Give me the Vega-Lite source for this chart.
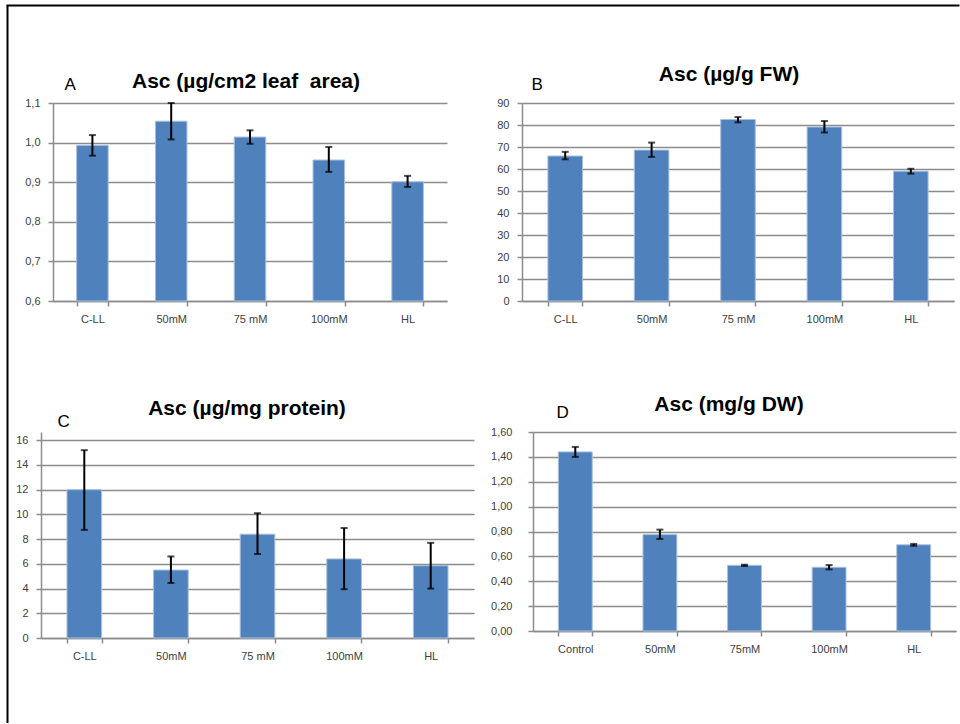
{
  "$schema": "https://vega.github.io/schema/vega-lite/v6.json",
  "background": "white",
  "padding": {"left": 7, "top": 5, "right": 0, "bottom": 0},
  "config": {
    "view": {"stroke": null},
    "font": "Liberation Sans",
    "axis": {
      "domainColor": "#8c8c8c",
      "domainWidth": 1.5,
      "tickColor": "#8c8c8c",
      "tickWidth": 1.5,
      "gridColor": "#8c8c8c",
      "gridWidth": 1.6,
      "labelColor": "#404040",
      "labelFont": "Liberation Sans",
      "labelFontSize": 11,
      "labelOverlap": false,
      "titleFont": "Liberation Sans",
      "titleColor": "#000000",
      "titleAngle": 0
    },
    "axisY": {"tickSize": 5, "grid": true, "labelPadding": 8, "tickCount": 20},
    "axisX": {"tickSize": 5, "tickBand": "extent", "labelAngle": 0, "labelPadding": 7, "grid": false},
    "bar": {"color": "#4F81BD", "stroke": "#A7BFDE", "strokeWidth": 1}
  },
  "data": {
    "values": [
      {"panel": "A", "cat": "C-LL", "value": 0.993, "lo": 0.967, "hi": 1.019},
      {"panel": "A", "cat": "50mM", "value": 1.054, "lo": 1.008, "hi": 1.1},
      {"panel": "A", "cat": "75 mM", "value": 1.014, "lo": 0.997, "hi": 1.031},
      {"panel": "A", "cat": "100mM", "value": 0.956, "lo": 0.926, "hi": 0.989},
      {"panel": "A", "cat": "HL", "value": 0.901, "lo": 0.888, "hi": 0.916},
      {"panel": "B", "cat": "C-LL", "value": 65.9, "lo": 64.4, "hi": 67.8},
      {"panel": "B", "cat": "50mM", "value": 68.6, "lo": 65.5, "hi": 72.0},
      {"panel": "B", "cat": "75 mM", "value": 82.5, "lo": 81.2, "hi": 83.6},
      {"panel": "B", "cat": "100mM", "value": 79.1, "lo": 76.6, "hi": 81.8},
      {"panel": "B", "cat": "HL", "value": 59.0, "lo": 57.9, "hi": 60.1},
      {"panel": "C", "cat": "C-LL", "value": 12.0, "lo": 8.75, "hi": 15.2},
      {"panel": "C", "cat": "50mM", "value": 5.5, "lo": 4.45, "hi": 6.6},
      {"panel": "C", "cat": "75 mM", "value": 8.4, "lo": 6.8, "hi": 10.1},
      {"panel": "C", "cat": "100mM", "value": 6.4, "lo": 3.95, "hi": 8.9},
      {"panel": "C", "cat": "HL", "value": 5.85, "lo": 4.0, "hi": 7.7},
      {"panel": "D", "cat": "Control", "value": 1.44, "lo": 1.4, "hi": 1.48},
      {"panel": "D", "cat": "50mM", "value": 0.775, "lo": 0.74, "hi": 0.815},
      {"panel": "D", "cat": "75mM", "value": 0.528, "lo": 0.523, "hi": 0.533},
      {"panel": "D", "cat": "100mM", "value": 0.512, "lo": 0.495, "hi": 0.53},
      {"panel": "D", "cat": "HL", "value": 0.693, "lo": 0.685, "hi": 0.7}
    ]
  },
  "spacing": 7,
  "hconcat": [
    {
      "width": 1,
      "height": 718,
      "data": {"values": []},
      "mark": "point",
      "encoding": {
        "y": {
          "field": "edge", "type": "quantitative",
          "scale": {"domain": [0, 1]},
          "axis": {"domainColor": "#000000", "domainWidth": 2, "ticks": false, "labels": false, "grid": false, "title": null}
        }
      }
    },
    {
      "spacing": 57,
      "vconcat": [
        {
          "width": 406,
          "height": 1,
          "data": {"values": []},
          "mark": "point",
          "encoding": {
            "x": {
              "field": "edge", "type": "quantitative",
              "scale": {"domain": [0, 1], "range": [-35, 918]},
              "axis": {"orient": "top", "domainColor": "#000000", "domainWidth": 2, "ticks": false, "labels": false, "grid": false, "title": null}
            }
          }
        },
        {
          "spacing": 69,
          "vconcat": [
            {
              "spacing": 49,
              "hconcat": [
                {
                  "width": 406,
                  "height": 198,
                  "transform": [{"filter": "datum.panel === 'A'"}],
                  "encoding": {
                    "x": {
                      "field": "cat", "type": "nominal", "sort": null,
                      "scale": {"range": [12, 406], "paddingInner": 0.6, "paddingOuter": 0.3},
                      "axis": {"title": "Asc (µg/cm2 leaf\u00a0 area)", "titleFontSize": 21, "titleFontWeight": "bold", "titleX": 204.5, "titleY": -214, "titleAlign": "center", "titleBaseline": "alphabetic"}
                    }
                  },
                  "layer": [
                    {
                      "mark": {"type": "bar"},
                      "encoding": {
                        "y": {
                          "field": "value", "type": "quantitative", "title": "A",
                          "scale": {"domain": [0.6, 1.1], "nice": false, "zero": false},
                          "axis": {"offset": -12, "values": [0.6, 0.7, 0.8, 0.9, 1.0, 1.1], "labelExpr": "replace(format(datum.value, '.1f'), '.', ',')", "titleFontSize": 17, "titleFontWeight": "normal", "titleX": 11, "titleY": -13.7, "titleAlign": "left", "titleBaseline": "alphabetic"}
                        },
                        "y2": {"datum": 0.6}
                      }
                    },
                    {"mark": {"type": "rule", "color": "black", "strokeWidth": 2}, "encoding": {"y": {"field": "lo", "type": "quantitative", "title": "A"}, "y2": {"field": "hi"}}},
                    {"mark": {"type": "tick", "color": "black", "thickness": 2, "size": 7}, "encoding": {"y": {"field": "lo", "type": "quantitative", "title": "A"}}},
                    {"mark": {"type": "tick", "color": "black", "thickness": 2, "size": 7}, "encoding": {"y": {"field": "hi", "type": "quantitative", "title": "A"}}}
                  ]
                },
                {
                  "width": 432,
                  "height": 198,
                  "transform": [{"filter": "datum.panel === 'B'"}],
                  "encoding": {
                    "x": {
                      "field": "cat", "type": "nominal", "sort": null,
                      "scale": {"paddingInner": 0.6, "paddingOuter": 0.3},
                      "axis": {"title": "Asc (µg/g FW)", "titleFontSize": 21, "titleFontWeight": "bold", "titleX": 206.5, "titleY": -221, "titleAlign": "center", "titleBaseline": "alphabetic"}
                    }
                  },
                  "layer": [
                    {
                      "mark": {"type": "bar"},
                      "encoding": {
                        "y": {
                          "field": "value", "type": "quantitative", "title": "B",
                          "scale": {"domain": [0, 90], "nice": false},
                          "axis": {"values": [0, 10, 20, 30, 40, 50, 60, 70, 80, 90], "titleFontSize": 17, "titleFontWeight": "normal", "titleX": 9, "titleY": -13.7, "titleAlign": "left", "titleBaseline": "alphabetic"}
                        }
                      }
                    },
                    {"mark": {"type": "rule", "color": "black", "strokeWidth": 2}, "encoding": {"y": {"field": "lo", "type": "quantitative", "title": "B"}, "y2": {"field": "hi"}}},
                    {"mark": {"type": "tick", "color": "black", "thickness": 2, "size": 7}, "encoding": {"y": {"field": "lo", "type": "quantitative", "title": "B"}}},
                    {"mark": {"type": "tick", "color": "black", "thickness": 2, "size": 7}, "encoding": {"y": {"field": "hi", "type": "quantitative", "title": "B"}}}
                  ]
                }
              ]
            },
            {
              "spacing": 16,
              "hconcat": [
                {
                  "width": 433,
                  "height": 206,
                  "transform": [{"filter": "datum.panel === 'C'"}],
                  "encoding": {
                    "x": {
                      "field": "cat", "type": "nominal", "sort": null,
                      "scale": {"paddingInner": 0.6, "paddingOuter": 0.3},
                      "axis": {"title": "Asc (µg/mg protein)", "titleFontSize": 21, "titleFontWeight": "bold", "titleX": 205.5, "titleY": -223.3, "titleAlign": "center", "titleBaseline": "alphabetic"}
                    }
                  },
                  "layer": [
                    {
                      "mark": {"type": "bar"},
                      "encoding": {
                        "y": {
                          "field": "value", "type": "quantitative", "title": "C",
                          "scale": {"domain": [0, 16.67], "nice": false},
                          "axis": {"values": [0, 2, 4, 6, 8, 10, 12, 14, 16], "titleFontSize": 17, "titleFontWeight": "normal", "titleX": 16, "titleY": -5.7, "titleAlign": "left", "titleBaseline": "alphabetic"}
                        }
                      }
                    },
                    {"mark": {"type": "rule", "color": "black", "strokeWidth": 2}, "encoding": {"y": {"field": "lo", "type": "quantitative", "title": "C"}, "y2": {"field": "hi"}}},
                    {"mark": {"type": "tick", "color": "black", "thickness": 2, "size": 7}, "encoding": {"y": {"field": "lo", "type": "quantitative", "title": "C"}}},
                    {"mark": {"type": "tick", "color": "black", "thickness": 2, "size": 7}, "encoding": {"y": {"field": "hi", "type": "quantitative", "title": "C"}}}
                  ]
                },
                {
                  "width": 423,
                  "height": 199,
                  "transform": [{"filter": "datum.panel === 'D'"}],
                  "encoding": {
                    "x": {
                      "field": "cat", "type": "nominal", "sort": null,
                      "scale": {"paddingInner": 0.6, "paddingOuter": 0.3},
                      "axis": {"title": "Asc (mg/g DW)", "titleFontSize": 21, "titleFontWeight": "bold", "titleX": 195.5, "titleY": -220.7, "titleAlign": "center", "titleBaseline": "alphabetic"}
                    }
                  },
                  "layer": [
                    {
                      "mark": {"type": "bar"},
                      "encoding": {
                        "y": {
                          "field": "value", "type": "quantitative", "title": "D",
                          "scale": {"domain": [0, 1.6], "nice": false},
                          "axis": {"values": [0, 0.2, 0.4, 0.6, 0.8, 1.0, 1.2, 1.4, 1.6], "labelPadding": 16, "labelExpr": "replace(format(datum.value, '.2f'), '.', ',')", "titleFontSize": 17, "titleFontWeight": "normal", "titleX": 23, "titleY": -14.7, "titleAlign": "left", "titleBaseline": "alphabetic"}
                        }
                      }
                    },
                    {"mark": {"type": "rule", "color": "black", "strokeWidth": 2}, "encoding": {"y": {"field": "lo", "type": "quantitative", "title": "D"}, "y2": {"field": "hi"}}},
                    {"mark": {"type": "tick", "color": "black", "thickness": 2, "size": 7}, "encoding": {"y": {"field": "lo", "type": "quantitative", "title": "D"}}},
                    {"mark": {"type": "tick", "color": "black", "thickness": 2, "size": 7}, "encoding": {"y": {"field": "hi", "type": "quantitative", "title": "D"}}}
                  ]
                }
              ]
            }
          ]
        }
      ]
    }
  ]
}
